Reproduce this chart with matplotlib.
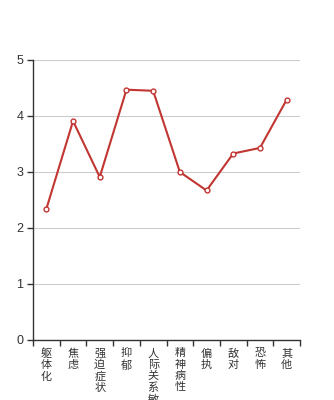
import matplotlib
matplotlib.use("Agg")
import matplotlib.pyplot as plt
import numpy as np

plt.rcParams["font.family"] = ["Noto Sans CJK SC", "DejaVu Sans"]

categories = ["躯体化", "焦虑", "强迫症状", "抑郁", "人际关系敏感",
              "精神病性", "偏执", "敌对", "恐怖", "其他"]
values = [2.34, 3.91, 2.91, 4.47, 4.45, 3.00, 2.67, 3.33, 3.43, 4.29]
y_ticks = [0, 1, 2, 3, 4, 5]

LINE_COLOR = "#c23531"
AXIS_COLOR = "#333333"

fig = plt.figure(figsize=(3.34, 4.00), dpi=100)
ax = fig.add_axes([33 / 334, 60 / 400, 267 / 334, 280 / 400])

x = np.arange(len(categories))
ax.plot(x, values, color=LINE_COLOR, linewidth=1.5, marker="o", markersize=3.5,
        markerfacecolor="white", markeredgecolor=LINE_COLOR, markeredgewidth=1.0,
        zorder=3, clip_on=False)

ax.set_xlim(-0.5, len(categories) - 0.5)
ax.set_ylim(0, 5)
ax.set_yticks(y_ticks)
ax.set_yticklabels([str(t) for t in y_ticks], family=["Liberation Sans"])
ax.yaxis.grid(True, color="#cccccc", linewidth=0.8)
ax.set_axisbelow(True)

# category labels at centres, tick marks at boundaries
ax.set_xticks(x)
ax.set_xticklabels(["\n".join(c) for c in categories], fontsize=8,
                   linespacing=1.15, color=AXIS_COLOR, va="top")
ax.set_xticks(np.arange(-0.5, len(categories)), minor=True)
ax.tick_params(axis="x", which="major", length=0, pad=6)
ax.tick_params(axis="x", which="minor", length=4, width=1, color=AXIS_COLOR)
ax.tick_params(axis="y", length=4, width=1, color=AXIS_COLOR,
               labelsize=9, labelcolor=AXIS_COLOR, pad=3)

for side in ["top", "right"]:
    ax.spines[side].set_visible(False)
for side in ["left", "bottom"]:
    ax.spines[side].set_color(AXIS_COLOR)
    ax.spines[side].set_linewidth(1)

fig.savefig("out.png", dpi=100)
